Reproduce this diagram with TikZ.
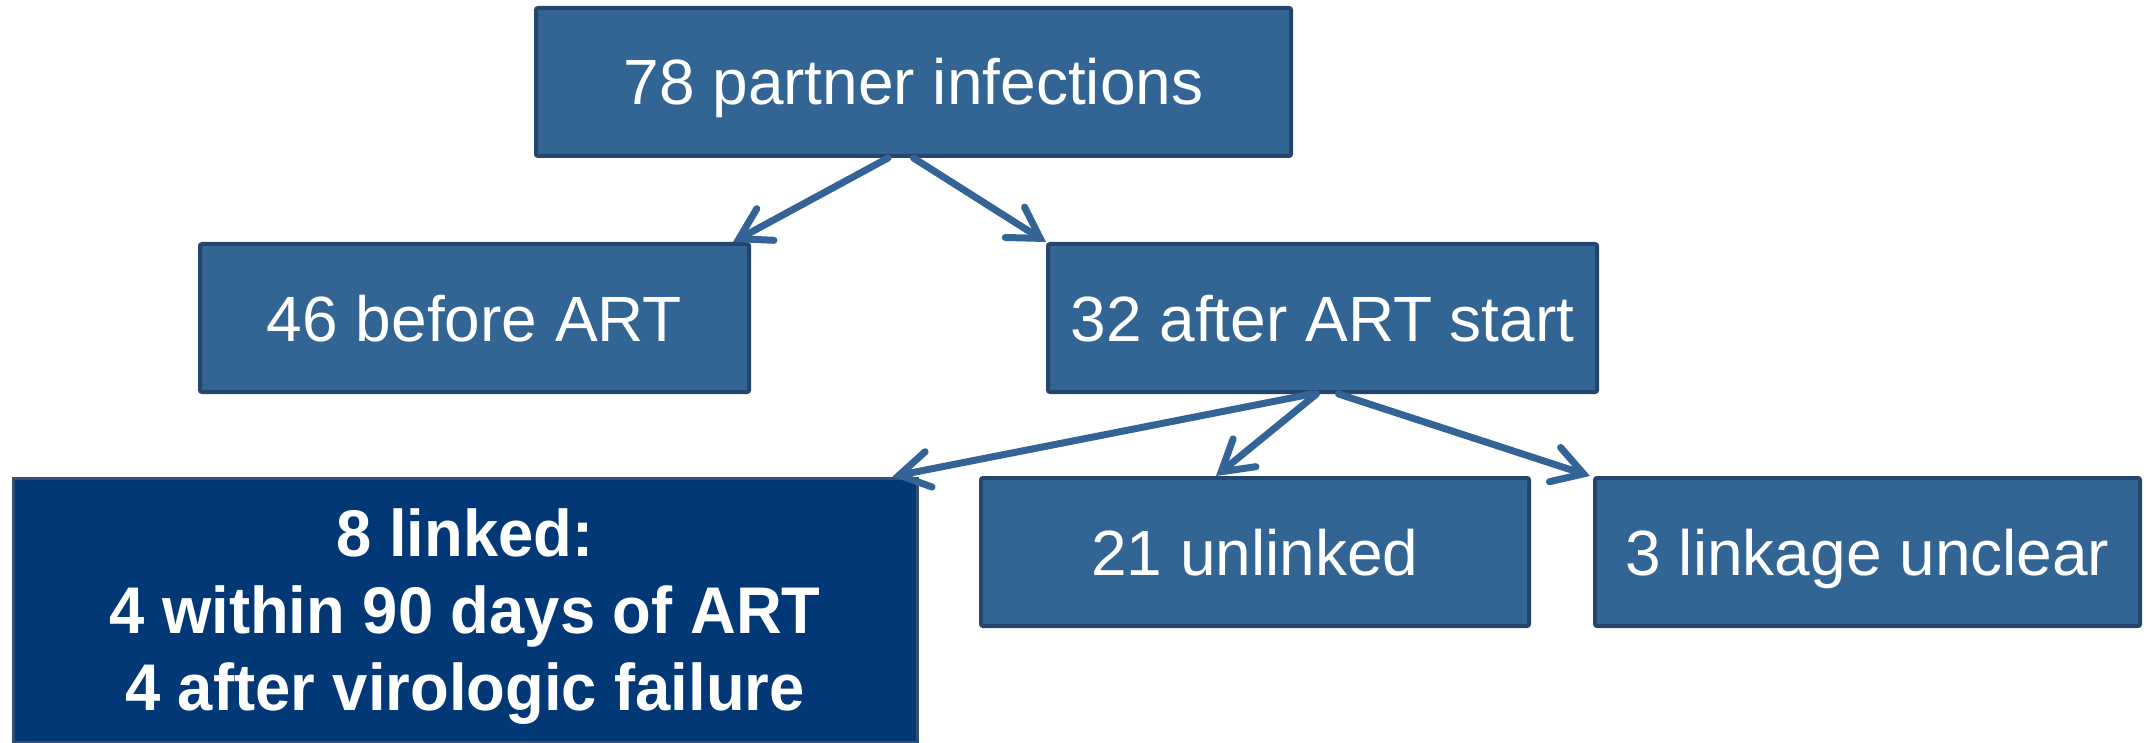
\documentclass[tikz,border=0pt]{standalone}
\usepackage{fontspec}
\setmainfont{Liberation Sans}
\newfontfamily\narrowbold{Liberation Sans Bold}[FakeStretch=0.96]
\usetikzlibrary{arrows.meta}
\definecolor{boxfill}{RGB}{51,101,148}
\definecolor{boxline}{RGB}{36,70,108}
\definecolor{darkfill}{RGB}{3,56,118}
\definecolor{darkline}{RGB}{50,80,115}
\definecolor{arrowcol}{RGB}{52,100,150}
\tikzset{
  box/.style={draw=boxline, fill=boxfill, line width=2pt, rounded corners=1pt,
    text=white, font=\fontsize{32}{38}\selectfont, align=center, inner sep=0pt,
    text height=23pt, text depth=0pt, minimum height=74pt},
  darkbox/.style={draw=darkline, fill=darkfill, line width=1.5pt,
    text=white, font=\fontsize{33}{38.5}\selectfont\narrowbold, align=center, inner sep=0pt},
  conn/.style={draw=arrowcol, line width=3.5pt, line cap=round,
    -{Straight Barb[length=15pt,width=18pt,line cap=round]}}
}
\begin{document}
\begin{tikzpicture}[x=0.5pt,y=-0.5pt]
\useasboundingbox (0,0) rectangle (2146,743);
\node[box, minimum width=377.5pt] (top) at (913.5,82) {78 partner infections};
\node[box, minimum width=274.5pt] (before) at (474.5,318) {46 before ART};
\node[box, minimum width=274.5pt] (after) at (1322.5,318) {32 after ART start};
\node[darkbox, minimum width=452pt, minimum height=132pt] (linked) at (465,610) {};
\node[text=white, font=\fontsize{33}{38.5}\selectfont\narrowbold, align=center, inner sep=0pt]
  (linkedtext) at (465,617)
  {8 linked:\\4 within 90 days of ART\\4 after virologic failure};
\node[box, minimum width=274pt] (unlinked) at (1255,552) {21 unlinked};
\node[box, minimum width=272.5pt] (unclear) at (1867.5,552) {3 linkage unclear};
\draw[conn] ([xshift=-12.75pt]top.south) -- ([xshift=-9pt]before.north east);
\draw[conn] (top.south) -- (after.north west);
\draw[conn] ([xshift=-5.5pt]after.south) -- ([xshift=-13pt]linked.north east);
\draw[conn] ([xshift=-3pt]after.south) -- ([xshift=-19.5pt]unlinked.north);
\draw[conn] ([xshift=8pt]after.south) -- ([xshift=-1.5pt]unclear.north west);
\end{tikzpicture}
\end{document}
